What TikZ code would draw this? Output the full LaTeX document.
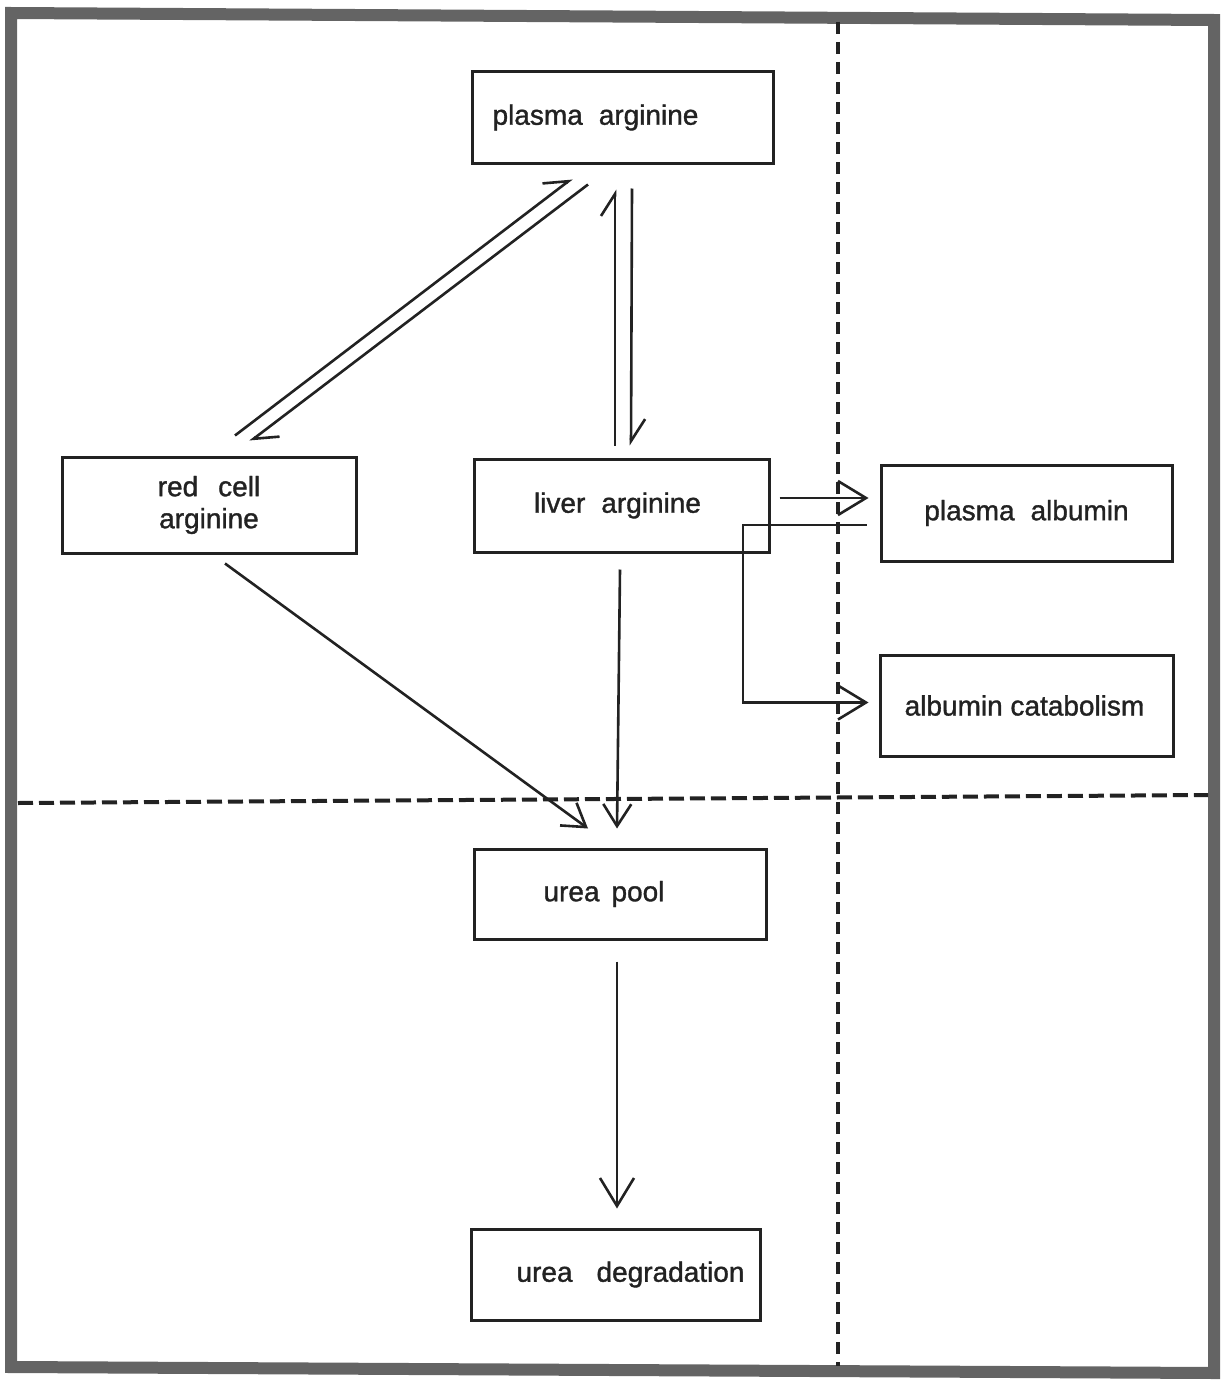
\documentclass[tikz,border=0pt]{standalone}
\usepackage{fontspec}
\setmainfont[FakeBold=1.2]{Liberation Sans}
\usetikzlibrary{arrows.meta,calc}
\definecolor{ink}{RGB}{34,34,34}
\definecolor{framegray}{RGB}{100,100,100}
\begin{document}
\begin{tikzpicture}[x=1pt,y=-1pt,
  every node/.style={text=ink,font=\fontsize{28}{32}\selectfont},
  box/.style={draw=ink,line width=3pt,inner sep=0pt},
  tshift/.style={execute at begin node={\hspace*{#1}}},
  arr/.style={draw=ink,line width=2.6pt,-{Straight Barb[length=28pt,width=34pt]}},
  sarr/.style={draw=ink,line width=2.6pt,-{Straight Barb[length=22pt,width=28pt]}},
  harp/.style={draw=ink,line width=2.6pt,-{Straight Barb[harpoon,length=22pt,width=28pt]}},
  hsep/.style={draw=ink,line width=4pt,dash pattern=on 15pt off 6pt},
  vsep/.style={draw=ink,line width=3.5pt,dash pattern=on 12pt off 8pt}]
\useasboundingbox (0,0) rectangle (1226,1381);
% frame
\draw[framegray,line width=12pt,line join=miter] (11,13) -- (1214,20) -- (1214,1373) -- (11,1367) -- cycle;
% separators
\coordinate (vtop) at (838,22);
\coordinate (vbot) at (838,1366);
\coordinate (hleft) at (18,803);
\coordinate (hright) at (1208,795);
\draw[vsep] (vtop) -- (vbot);
\draw[hsep] (hleft) -- (hright);
% boxes
\node[box,minimum width=301pt,minimum height=91pt,tshift=-54pt] (pa) at (622.5,117.5) {plasma\hspace{16pt}arginine};
\node[box,minimum width=294pt,minimum height=96pt,align=center] (rc) at (209,505) {red\hspace{20pt}cell\\arginine};
\node[box,minimum width=295pt,minimum height=93pt,tshift=-8pt] (la) at (621.5,505.5) {liver\hspace{16pt}arginine};
\node[box,minimum width=291pt,minimum height=96pt] (pab) at (1026.5,513) {plasma\hspace{16pt}albumin};
\node[box,minimum width=293pt,minimum height=101pt,tshift=-4pt] (ac) at (1026.5,705.5) {albumin catabolism};
\node[box,minimum width=292pt,minimum height=90pt,tshift=-32pt] (up) at (620,894) {urea\hspace{12pt}pool};
\node[box,minimum width=289pt,minimum height=91pt,tshift=30pt] (ud) at (615.5,1274.5) {urea\hspace{24pt}degradation};
% exchange arrows
\draw[harp] ($(rc.north)+(26,-20)$) -- ($(pa.south)+(-50.5,14)$);
\draw[harp] ($(pa.south)+(-34.5,20)$) -- ($(rc.north)+(41,-14)$);
\draw[harp] ($(la.north)+(-6.5,-12)$) -- ($(pa.south)+(-7.5,25)$);
\draw[harp] ($(pa.south)+(9.5,24)$) -- ($(la.north)+(9.5,-12)$);
% to urea pool
\draw[sarr] ($(rc.south)+(16,9)$) -- ($(up.north)+(-32,-19)$);
\draw[sarr] ($(la.south)+(-1.5,16)$) -- ($(up.north)+(-3,-19)$);
\draw[arr] ($(up.south)+(-3,21)$) -- ($(ud.north)+(1.5,-19)$);
% albumin
\draw[arr] ($(la.east)+(9,-7.5)$) -- ($(pab.west)+(-11,-15)$);
\coordinate (elb) at (743,525);
\draw[arr] ($(pab.west)+(-13,12)$) -- (elb) |- ($(ac.west)+(-10,-3)$);
\end{tikzpicture}
\end{document}
